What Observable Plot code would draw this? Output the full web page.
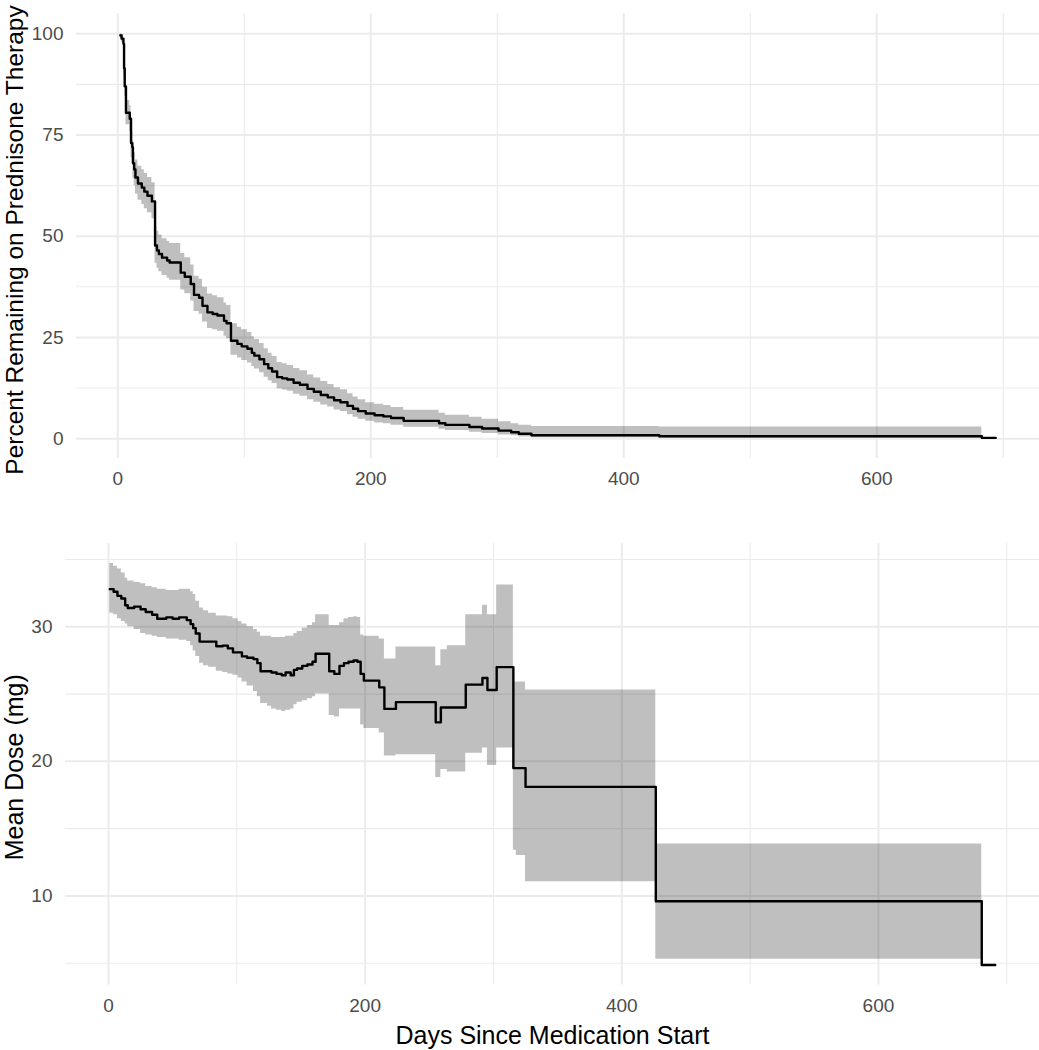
<!DOCTYPE html>
<html><head><meta charset="utf-8">
<script src="https://cdn.jsdelivr.net/npm/d3@7"></script>
<script src="https://cdn.jsdelivr.net/npm/@observablehq/plot@0.6"></script>
<style>
html,body{margin:0;padding:0;background:#fff;}
#chart svg{display:block;}
</style></head><body><div id="chart"></div>
<script>
// ---- Top panel: percent remaining on prednisone (Kaplan–Meier style) ----
const survDays = [2,3,4.5,5,5.5,6.5,9.5,10.5,11.5,12, 13,14,16,19,21,23.5,27,29.5,31,32.5, 35,39,41,49.8,53,57.7,60.3,64.3,67,70.9, 75,78.8,84,86,89.5,94.6,98,102.5,106,108, 112,115.7,119,122,126,130,134,139,144,150, 155,160.5,166,171,176,181.6,186,190,196,203, 210,216,226,254,259,278,288,301,311,317, 327,428,683,694];
const survPct = [99.6,98.8,97.5,91.5,87,80.5,79,73,72,68, 66.5,64.5,63,62,61,60,58.6,47.7,46.5,45.6, 44.7,44,43.5,41,40,38.2,35.5,34.8,32.8,31.2, 30.8,30.4,29.1,28.5,24.2,23.4,22.8,22.2,21.2,20.5, 19.6,18.4,17.4,16.6,15.2,14.9,14.6,13.8,13.3,12.3, 11.6,10.8,10.2,9.5,9.0,8.1,7.4,6.8,6.2,5.8, 5.5,5.1,4.4,3.8,3.4,2.9,2.5,2.0,1.6,1.2, 0.85,0.6,0.2,0.2];
const survLo = [99.0,97.8,96.2,89.5,84.6,77.5,75.8,69.4,68.2,64.2, 62.5,60.4,58.9,57.8,56.8,55.8,54.3,43.3,42.1,41.2, 40.3,39.6,39.1,36.7,35.8,34.0,31.4,30.7,28.8,27.2, 26.9,26.5,25.3,24.7,20.6,19.9,19.3,18.7,17.8,17.2, 16.3,15.2,14.3,13.6,12.3,12.0,11.7,11.0,10.5,9.6, 9.0,8.3,7.8,7.1,6.7,5.9,5.3,4.8,4.3,3.9, 3.7,3.3,2.8,2.3,2.0,1.6,1.3,0.9,0.7,0.4, 0.2,0.1,0.1,null];
const survHi = [100,99.8,98.8,93.5,89.4,83.5,82.3,76.8,75.9,72.2, 70.6,68.8,67.3,66.4,65.5,64.5,63.2,52.4,51.2,50.3, 49.4,48.7,48.2,45.7,44.7,42.9,40.1,39.4,37.4,35.7, 35.3,34.8,33.5,32.9,28.4,27.5,26.9,26.2,25.2,24.5, 23.5,22.2,21.1,20.3,18.8,18.5,18.1,17.3,16.8,15.7, 15.0,14.1,13.4,12.6,12.1,11.1,10.3,9.6,8.9,8.5, 8.2,7.7,7.0,6.3,5.8,5.3,4.8,4.2,3.7,3.3, 3.0,2.9,2.9,null];

// ---- Bottom panel: mean dose (mg) ----
const doseDays = [1,4,7,10,13,15,20,25,29,34, 38,45,50,55,61,64,66,68,71,74, 78,84,89,93,97,101,104,108,113,116, 118.5,124,127,131,135,138,142,144.5,147,151, 155,159,161.4,172,176,180,183.5,187,191,194, 196.5,199,211,215,224,255,259,264,278.4,291.4, 295.3,302.5,315.5,317.8,325,426.5,680.5,691];
const doseMean = [32.8,32.6,32.3,32.1,31.6,31.4,31.5,31.3,31.1,30.9, 30.6,30.7,30.6,30.7,30.5,30.2,29.9,29.5,28.9,28.9, 28.9,28.55,28.6,28.4,28.1,28.1,27.8,27.7,27.6,27.3, 26.7,26.7,26.6,26.5,26.4,26.6,26.4,26.8,26.9,27.1, 27.2,27.4,28.0,26.7,26.5,27.1,27.3,27.4,27.5,27.4, 26.5,26.0,25.5,23.9,24.4,22.9,24.0,24.0,25.7,26.2, 25.3,27.0,19.5,19.5,18.1,9.6,4.87,4.87];
const doseLo = [31.0,30.9,30.6,30.4,30.2,30.0,29.8,29.5,29.4,29.3, 29.2,29.1,29.1,29.0,28.9,28.6,28.2,27.8,27.3,27.1, 27.0,26.7,26.6,26.5,26.4,26.2,25.9,25.6,25.2,24.8, 24.3,24.1,23.9,23.8,23.7,23.8,23.9,24.2,24.4,24.5, 24.65,24.8,25.0,23.4,23.3,23.9,23.9,23.9,23.9,23.9, 22.7,22.45,22.1,20.4,20.5,18.8,19.4,19.2,20.6,21.0, 19.7,21.0,13.4,13.0,11.05,5.3,5.3,null];
const doseHi = [34.7,34.5,34.3,34.0,33.6,33.4,33.3,33.2,33.0,32.9, 32.8,32.7,32.7,32.8,32.8,32.6,32.4,31.9,31.4,31.2, 31.0,30.8,30.8,30.75,30.6,30.4,30.2,30.0,29.8,29.6, 29.3,29.3,29.2,29.2,29.2,29.3,29.3,29.5,29.65,29.9, 30.1,30.3,30.9,30.1,30.1,30.3,30.6,30.7,30.75,30.7, 29.4,29.3,29.1,27.6,28.5,27.1,28.3,28.6,30.9,31.6, 30.9,33.1,25.9,25.9,25.3,13.86,13.86,null];

// ---- Ticks and labels ----
const dayTicks = [0, 200, 400, 600];
const dayMinor = [100, 300, 500, 700];
const pctTicks = [0, 25, 50, 75, 100];
const pctMinor = [12.5, 37.5, 62.5, 87.5];
const doseTicks = [10, 20, 30];
const doseMinor = [5, 15, 25, 35];
const yTitleTop = "Percent Remaining on Prednisone Therapy";
const yTitleBottom = "Mean Dose (mg)";
const xTitle = "Days Since Medication Start";

const FONT = "'Liberation Sans', Arial, Helvetica, sans-serif";
const GRID = "#ebebeb";

// ggplot-style 5% expansion of the data range
function ggExpand(...arrays) {
  const [a, b] = d3.extent(arrays.flat().filter(v => v != null));
  const p = (b - a) * 0.05;
  return [a - p, b + p];
}

const survRows = survDays.map((t, i) => ({t, v: survPct[i], lo: survLo[i], hi: survHi[i]}));
const doseRows = doseDays.map((t, i) => ({t, v: doseMean[i], lo: doseLo[i], hi: doseHi[i]}));

function panel({rows, xDom, yDom, yMajor, yMinor, height, mt, mb, ml, yTitle, yTitleSize, yTitleDy, withXTitle}) {
  const marks = [
    Plot.ruleX(dayMinor.filter(d => d >= xDom[0] && d <= xDom[1]), {stroke: GRID, strokeWidth: 1.1}),
    Plot.ruleY(yMinor.filter(d => d >= yDom[0] && d <= yDom[1]), {stroke: GRID, strokeWidth: 1.1}),
    Plot.ruleX(dayTicks, {stroke: GRID, strokeWidth: 2}),
    Plot.ruleY(yMajor, {stroke: GRID, strokeWidth: 2}),
    Plot.areaY(rows, {x: "t", y1: "lo", y2: "hi", curve: "step-after", fill: "black", fillOpacity: 0.25}),
    Plot.line(rows, {x: "t", y: "v", curve: "step-after", stroke: "black", strokeWidth: 2.4}),
    Plot.axisX(dayTicks, {tickSize: 0, tickPadding: 13, label: null}),
    Plot.axisY(yMajor, {tickSize: 0, tickPadding: 13, label: null}),
    Plot.text([yTitle], {text: d => d, frameAnchor: "left", rotate: -90, dx: 14.5 - ml, dy: yTitleDy,
      fontSize: yTitleSize, fill: "black", textAnchor: "middle", lineAnchor: "middle"})
  ];
  if (withXTitle) {
    marks.push(Plot.text([xTitle], {text: d => d, frameAnchor: "bottom", lineAnchor: "bottom",
      dy: 58.5, fontSize: 25, fill: "black"}));
  }
  return Plot.plot({
    width: 1039, height,
    marginLeft: ml, marginRight: 0, marginTop: mt, marginBottom: mb,
    x: {domain: xDom},
    y: {domain: yDom},
    style: {fontFamily: FONT, fontSize: "19px", color: "#4d4d4d", background: "white", overflow: "visible"},
    marks
  });
}

const topChart = panel({
  rows: survRows,
  xDom: ggExpand(survDays),
  yDom: ggExpand(survPct, survLo, survHi),
  yMajor: pctTicks, yMinor: pctMinor,
  height: 500, mt: 13, mb: 42, ml: 76,
  yTitle: yTitleTop, yTitleSize: 24.5, yTitleDy: 4,
  withXTitle: false
});
const bottomChart = panel({
  rows: doseRows,
  xDom: ggExpand(doseDays),
  yDom: ggExpand(doseMean, doseLo, doseHi),
  yMajor: doseTicks, yMinor: doseMinor,
  height: 550, mt: 43, mb: 65.5, ml: 65,
  yTitle: yTitleBottom, yTitleSize: 25, yTitleDy: 3,
  withXTitle: true
});
const root = document.getElementById("chart");
root.append(topChart, bottomChart);
</script></body></html>
